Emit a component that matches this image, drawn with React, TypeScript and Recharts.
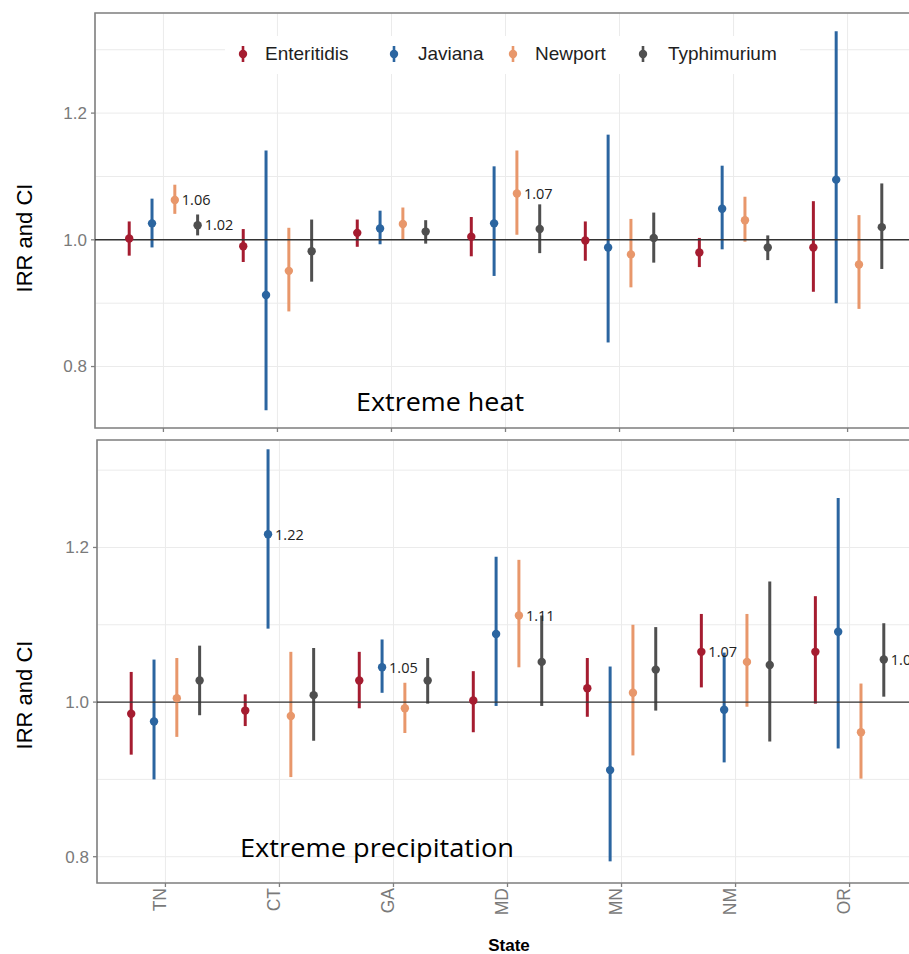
import React from "react";
import {
  ScatterChart,
  Scatter,
  XAxis,
  YAxis,
  CartesianGrid,
  ErrorBar,
  ReferenceLine,
  ReferenceArea,
} from "recharts";

const states = ["TN", "CT", "GA", "MD", "MN", "NM", "OR"];
const seriesNames = ["Enteritidis", "Javiana", "Newport", "Typhimurium"];
const seriesColors = ["#A51C30", "#2B65A0", "#E8976B", "#4F4F4F"];

// Extreme heat
const heatEnteritidis = [1.002, 0.990, 1.011, 1.005, 0.999, 0.980, 0.988];
const heatEnteritidisLo = [0.975, 0.965, 0.989, 0.974, 0.967, 0.957, 0.918];
const heatEnteritidisHi = [1.029, 1.017, 1.032, 1.036, 1.029, 1.003, 1.061];
const heatJaviana = [1.026, 0.913, 1.018, 1.026, 0.988, 1.049, 1.095];
const heatJavianaLo = [0.988, 0.731, 0.993, 0.943, 0.838, 0.985, 0.900];
const heatJavianaHi = [1.065, 1.141, 1.046, 1.116, 1.166, 1.117, 1.329];
const heatNewport = [1.063, 0.951, 1.025, 1.073, 0.977, 1.031, 0.961];
const heatNewportLo = [1.041, 0.887, 1.000, 1.008, 0.925, 0.997, 0.891];
const heatNewportHi = [1.087, 1.019, 1.051, 1.141, 1.033, 1.068, 1.039];
const heatTyphimurium = [1.023, 0.982, 1.013, 1.017, 1.003, 0.988, 1.020];
const heatTyphimuriumLo = [1.007, 0.934, 0.994, 0.979, 0.964, 0.968, 0.954];
const heatTyphimuriumHi = [1.040, 1.032, 1.031, 1.056, 1.043, 1.007, 1.089];

// Extreme precipitation
const precEnteritidis = [0.985, 0.989, 1.028, 1.002, 1.018, 1.065, 1.065];
const precEnteritidisLo = [0.932, 0.969, 0.992, 0.961, 0.981, 1.019, 0.998];
const precEnteritidisHi = [1.039, 1.010, 1.065, 1.040, 1.057, 1.114, 1.137];
const precJaviana = [0.975, 1.217, 1.045, 1.088, 0.912, 0.990, 1.091];
const precJavianaLo = [0.900, 1.095, 1.012, 0.995, 0.794, 0.922, 0.940];
const precJavianaHi = [1.055, 1.327, 1.081, 1.188, 1.046, 1.064, 1.264];
const precNewport = [1.005, 0.982, 0.992, 1.112, 1.012, 1.052, 0.961];
const precNewportLo = [0.955, 0.903, 0.960, 1.045, 0.931, 0.994, 0.901];
const precNewportHi = [1.057, 1.065, 1.025, 1.184, 1.100, 1.114, 1.024];
const precTyphimurium = [1.028, 1.009, 1.028, 1.052, 1.042, 1.048, 1.055];
const precTyphimuriumLo = [0.983, 0.950, 0.998, 0.995, 0.989, 0.949, 1.007];
const precTyphimuriumHi = [1.073, 1.070, 1.057, 1.112, 1.097, 1.156, 1.102];

const heatLabelStates = ["TN", "TN", "MD"];
const heatLabelSeries = ["Newport", "Typhimurium", "Newport"];
const heatLabelTexts = ["1.06", "1.02", "1.07"];

const precLabelStates = ["CT", "GA", "MD", "NM", "OR"];
const precLabelSeries = ["Javiana", "Javiana", "Newport", "Enteritidis", "Typhimurium"];
const precLabelTexts = ["1.22", "1.05", "1.11", "1.07", "1.06"];

const yMajorTicks = [0.8, 1.0, 1.2];
const yGridTicks = [0.8, 0.9, 1.0, 1.1, 1.2, 1.3];

const heatDomain = [0.703, 1.358];
const precDomain = [0.766, 1.339];

const DODGE = 0.2;
const xPos = (stateIdx: number, seriesIdx: number) =>
  stateIdx + 1 + (seriesIdx - (seriesNames.length - 1) / 2) * DODGE;

function buildPoints(est: number[], lo: number[], hi: number[], si: number) {
  return est.map((v, i) => ({
    x: xPos(i, si),
    y: v,
    err: [v - lo[i], hi[i] - v],
  }));
}

function buildLabels(
  lStates: string[],
  lSeries: string[],
  lTexts: string[],
  estimates: number[][]
) {
  return lStates.map((s, k) => {
    const si = seriesNames.indexOf(lSeries[k]);
    const i = states.indexOf(s);
    return { x: xPos(i, si), y: estimates[si][i], text: lTexts[k] };
  });
}

const heatEst = [heatEnteritidis, heatJaviana, heatNewport, heatTyphimurium];
const heatLo = [heatEnteritidisLo, heatJavianaLo, heatNewportLo, heatTyphimuriumLo];
const heatHi = [heatEnteritidisHi, heatJavianaHi, heatNewportHi, heatTyphimuriumHi];
const precEst = [precEnteritidis, precJaviana, precNewport, precTyphimurium];
const precLo = [precEnteritidisLo, precJavianaLo, precNewportLo, precTyphimuriumLo];
const precHi = [precEnteritidisHi, precJavianaHi, precNewportHi, precTyphimuriumHi];

const AXIS_GRAY = "#808080";
const TICK_GRAY = "#7a7a7a";
const SANS = "'Liberation Sans', Arial, sans-serif";

const YTick = (props: any) => {
  const { x, y, payload } = props;
  const major = yMajorTicks.some((t) => Math.abs(t - payload.value) < 1e-6);
  if (!major) return <g />;
  return (
    <g>
      <line x1={x + 4} x2={x + 8} y1={y} y2={y} stroke={AXIS_GRAY} strokeWidth={1.3} />
      <text
        x={x}
        y={y}
        dy="0.35em"
        textAnchor="end"
        fontFamily={SANS}
        fontSize={17}
        fill={TICK_GRAY}
      >
        {Number(payload.value).toFixed(1)}
      </text>
    </g>
  );
};

const XTick = (props: any) => {
  const { x, y, payload } = props;
  const label = states[Math.round(payload.value) - 1] ?? "";
  return (
    <text
      x={x}
      y={y}
      dy={0.6}
      textAnchor="end"
      transform={`rotate(-90, ${x}, ${y})`}
      fontFamily={SANS}
      fontSize={17.5}
      fill={TICK_GRAY}
    >
      {label}
    </text>
  );
};

function Panel(props: {
  width: number;
  height: number;
  margin: any;
  domain: number[];
  est: number[][];
  lo: number[][];
  hi: number[][];
  labels: { x: number; y: number; text: string }[];
  showX: boolean;
  xHeight: number;
}) {
  const { width, height, margin, domain, est, lo, hi, labels, showX, xHeight } = props;
  return (
    <ScatterChart width={width} height={height} margin={margin}>
      <CartesianGrid stroke="#ebebeb" strokeWidth={1} />
      <XAxis
        type="number"
        dataKey="x"
        domain={[0.4, 7.6]}
        allowDataOverflow
        ticks={[1, 2, 3, 4, 5, 6, 7]}
        interval={0}
        axisLine={false}
        tickLine={{ stroke: AXIS_GRAY, strokeWidth: 1.3 }}
        tickSize={4}
        tickMargin={1}
        height={xHeight}
        tick={showX ? <XTick /> : undefined}
        tickFormatter={showX ? undefined : () => ""}
      />
      <YAxis
        type="number"
        dataKey="y"
        domain={domain}
        allowDataOverflow
        ticks={yGridTicks}
        interval={0}
        axisLine={false}
        tickLine={false}
        tickSize={4}
        tickMargin={4}
        width={95}
        tick={<YTick />}
      />
      <ReferenceArea
        x1={0.4}
        x2={7.6}
        y1={domain[0]}
        y2={domain[1]}
        fill="none"
        stroke={AXIS_GRAY}
        strokeWidth={1.6}
        ifOverflow="visible"
      />
      {seriesNames.map((name, si) => (
        <Scatter
          key={name}
          name={name}
          data={buildPoints(est[si], lo[si], hi[si], si)}
          dataKey="y"
          isAnimationActive={false}
          shape={(p: any) => <circle cx={p.cx} cy={p.cy} r={4.2} fill={seriesColors[si]} />}
        >
          <ErrorBar
            dataKey="err"
            direction="y"
            width={0}
            stroke={seriesColors[si]}
            strokeWidth={3}
            isAnimationActive={false}
          />
        </Scatter>
      ))}
      <ReferenceLine y={1} stroke="#333333" strokeWidth={1.4} />
      <Scatter
        name="labels"
        data={labels}
        dataKey="y"
        isAnimationActive={false}
        shape={(p: any) => (
          <text
            x={p.cx + 7}
            y={p.cy}
            dy="0.36em"
            fontFamily="'Open Sans', sans-serif"
            fontSize={14.5}
            fill="#222"
          >
            {p.payload.text}
          </text>
        )}
      />
    </ScatterChart>
  );
}

const legendMarkerX = [243, 394, 513, 643];
const legendTextX = [265, 418, 535, 668];

export default function App() {
  const heatLabels = buildLabels(heatLabelStates, heatLabelSeries, heatLabelTexts, heatEst);
  const precLabels = buildLabels(precLabelStates, precLabelSeries, precLabelTexts, precEst);
  return (
    <div
      style={{
        position: "absolute",
        left: 0,
        top: 0,
        width: 909,
        height: 954,
        overflow: "hidden",
        background: "#fff",
      }}
    >
      <div style={{ position: "absolute", left: 0, top: 0 }}>
        <Panel
          width={930}
          height={436}
          margin={{ top: 13, right: 14, bottom: 0, left: 0 }}
          domain={heatDomain}
          est={heatEst}
          lo={heatLo}
          hi={heatHi}
          labels={heatLabels}
          showX={false}
          xHeight={8}
        />
      </div>
      <div style={{ position: "absolute", left: 0, top: 438 }}>
        <Panel
          width={932}
          height={516}
          margin={{ top: 2, right: 14, bottom: 0, left: 2 }}
          domain={precDomain}
          est={precEst}
          lo={precLo}
          hi={precHi}
          labels={precLabels}
          showX={true}
          xHeight={71}
        />
      </div>
      {/* legend */}
      <div
        style={{
          position: "absolute",
          left: 225,
          top: 36,
          width: 575,
          height: 38,
          background: "#fff",
        }}
      />
      {seriesNames.map((name, si) => (
        <React.Fragment key={name}>
          <svg
            width={12}
            height={18}
            style={{ position: "absolute", left: legendMarkerX[si] - 6, top: 54 - 9 }}
          >
            <line x1={6} x2={6} y1={1} y2={17} stroke={seriesColors[si]} strokeWidth={2.6} />
            <circle cx={6} cy={9} r={4.2} fill={seriesColors[si]} />
          </svg>
          <div
            style={{
              position: "absolute",
              left: legendTextX[si],
              top: 54 - 12,
              height: 24,
              lineHeight: "24px",
              fontFamily: SANS,
              fontSize: 19,
              color: "#1e1e1e",
              whiteSpace: "nowrap",
            }}
          >
            {name}
          </div>
        </React.Fragment>
      ))}
      <svg
        width={909}
        height={954}
        style={{ position: "absolute", left: 0, top: 0, pointerEvents: "none" }}
      >
        <text
          transform="translate(24,238) rotate(-90)"
          textAnchor="middle"
          dy="0.35em"
          fontFamily={SANS}
          fontSize={22}
          fill="#000"
        >
          IRR and CI
        </text>
        <text
          transform="translate(24,695) rotate(-90)"
          textAnchor="middle"
          dy="0.35em"
          fontFamily={SANS}
          fontSize={22}
          fill="#000"
        >
          IRR and CI
        </text>
        <text
          x={356}
          y={411}
          fontFamily="'Open Sans', sans-serif"
          fontSize={26}
          textLength={168}
          lengthAdjust="spacingAndGlyphs"
          fill="#000"
        >
          Extreme heat
        </text>
        <text
          x={240}
          y={857}
          fontFamily="'Open Sans', sans-serif"
          fontSize={26}
          textLength={274}
          lengthAdjust="spacingAndGlyphs"
          fill="#000"
        >
          Extreme precipitation
        </text>
        <text
          x={509}
          y={951}
          textAnchor="middle"
          fontFamily={SANS}
          fontSize={17}
          fontWeight="bold"
          fill="#000"
        >
          State
        </text>
      </svg>
    </div>
  );
}
